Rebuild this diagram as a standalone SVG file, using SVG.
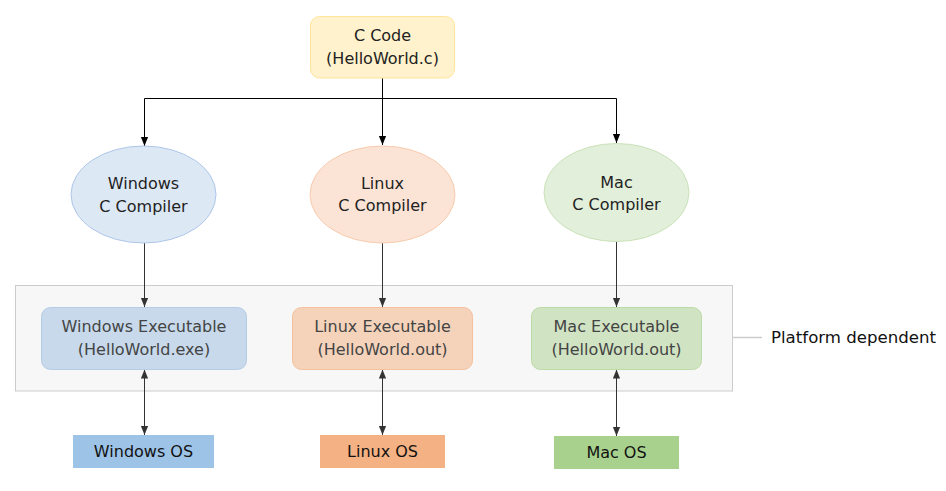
<svg xmlns="http://www.w3.org/2000/svg" width="946" height="491" viewBox="0 0 946 491">
<defs>
<style>
text{font-family:"DejaVu Sans","Verdana",sans-serif;font-size:16px;text-anchor:middle}
.dk{fill:#222}
.ex{fill:#444}
.ln{fill:none;stroke:#000;stroke-width:1}
.lg{fill:none;stroke:#333;stroke-width:1}
</style>
<marker id="ah" viewBox="0 0 10 10" refX="10" refY="5" markerWidth="9" markerHeight="9" markerUnits="userSpaceOnUse" orient="auto">
<path d="M0,1 L10,5 L0,9 Z" fill="#000"/>
</marker>
<marker id="ag" viewBox="0 0 10 10" refX="10" refY="5" markerWidth="9" markerHeight="9" markerUnits="userSpaceOnUse" orient="auto-start-reverse">
<path d="M0,1 L10,5 L0,9 Z" fill="#333"/>
</marker>
</defs>
<rect width="946" height="491" fill="#fff"/>
<g id="platform-group">
<rect x="15.5" y="285.5" width="717" height="105.5" fill="#f7f7f7" stroke="#cccccc"/>
<line x1="733" y1="337.5" x2="762" y2="337.5" stroke="#cccccc" stroke-width="1.5"/>
<text x="771" y="343" style="text-anchor:start;font-size:16.6px" fill="#111">Platform dependent</text>
</g>
<g id="connectors">
<path class="ln" d="M382.5,78 V145" marker-end="url(#ah)"/>
<path class="ln" d="M144.5,98.5 H616.5"/>
<path class="ln" d="M144.5,98.5 V146" marker-end="url(#ah)"/>
<path class="ln" d="M616.5,98.5 V143" marker-end="url(#ah)"/>
<path class="lg" d="M144.5,243 V307" marker-end="url(#ag)"/>
<path class="lg" d="M382.5,243 V307" marker-end="url(#ag)"/>
<path class="lg" d="M616.5,241.5 V307" marker-end="url(#ag)"/>
<path class="lg" d="M144.5,369.5 V435" marker-start="url(#ag)" marker-end="url(#ag)"/>
<path class="lg" d="M382.5,369.5 V435" marker-start="url(#ag)" marker-end="url(#ag)"/>
<path class="lg" d="M616.5,369.5 V436" marker-start="url(#ag)" marker-end="url(#ag)"/>
</g>
<g id="c-code">
<rect x="310.5" y="16.5" width="144" height="61.5" rx="9" fill="#fff2cc" stroke="#ffe599"/>
<text class="dk" x="382.5" y="41">C Code</text>
<text class="dk" x="382.5" y="64">(HelloWorld.c)</text>
</g>
<g id="windows-compiler">
<ellipse cx="143.5" cy="194.5" rx="72.5" ry="48.5" fill="#dde8f5" stroke="#aec6ea"/>
<text class="dk" x="143.5" y="189">Windows</text>
<text class="dk" x="143.5" y="212">C Compiler</text>
</g>
<g id="linux-compiler">
<ellipse cx="382.5" cy="194.5" rx="72.5" ry="48.5" fill="#fbe4d6" stroke="#f8cbad"/>
<text class="dk" x="382.5" y="188.5">Linux</text>
<text class="dk" x="382.5" y="211">C Compiler</text>
</g>
<g id="mac-compiler">
<ellipse cx="616.5" cy="192.5" rx="72.5" ry="49" fill="#e2efda" stroke="#c9e2b8"/>
<text class="dk" x="616.5" y="187.5">Mac</text>
<text class="dk" x="616.5" y="209.5">C Compiler</text>
</g>
<g id="windows-exe">
<rect x="41.5" y="307.5" width="205" height="62" rx="9" fill="#c7d9eb" stroke="#b3cde6"/>
<text class="ex" x="144" y="332">Windows Executable</text>
<text class="ex" x="144" y="355">(HelloWorld.exe)</text>
</g>
<g id="linux-exe">
<rect x="292.5" y="307.5" width="180" height="62" rx="9" fill="#f5d3bb" stroke="#f4c19c"/>
<text class="ex" x="382.5" y="332">Linux Executable</text>
<text class="ex" x="382.5" y="355">(HelloWorld.out)</text>
</g>
<g id="mac-exe">
<rect x="531.5" y="307.5" width="170" height="62" rx="9" fill="#d0e3c2" stroke="#bcdaa6"/>
<text class="ex" x="616.5" y="332">Mac Executable</text>
<text class="ex" x="616.5" y="355">(HelloWorld.out)</text>
</g>
<g id="windows-os">
<rect x="73" y="435" width="141" height="33" fill="#9dc3e6"/>
<text fill="#111" x="143.5" y="457">Windows OS</text>
</g>
<g id="linux-os">
<rect x="320" y="435" width="125" height="33" fill="#f4b183"/>
<text fill="#111" x="382.5" y="457">Linux OS</text>
</g>
<g id="mac-os">
<rect x="554" y="436" width="125" height="33" fill="#a9d18e"/>
<text fill="#111" x="616.5" y="458">Mac OS</text>
</g>
</svg>
